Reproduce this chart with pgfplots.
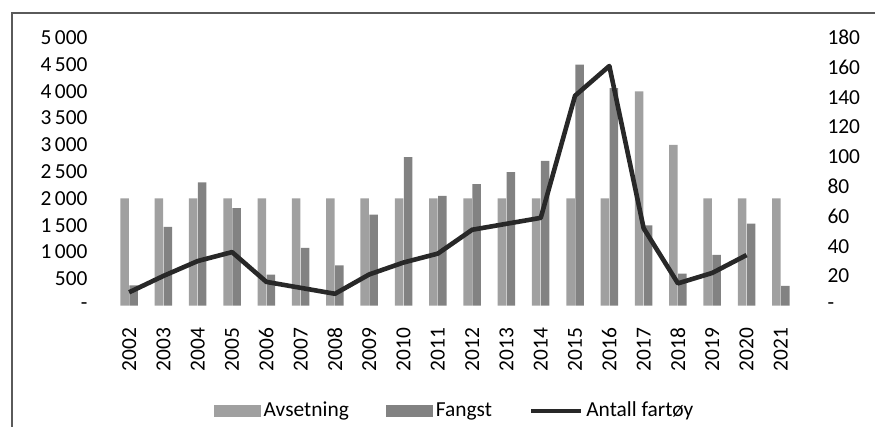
\documentclass[border=0pt]{standalone}
\usepackage{pgfplots}
\pgfplotsset{compat=1.18}
\usepackage{fontspec}
\setmainfont{Carlito}
\definecolor{avs}{RGB}{160,160,160}
\definecolor{fan}{RGB}{130,130,130}
\definecolor{lin}{RGB}{40,40,40}
\definecolor{frm}{RGB}{90,90,90}
\begin{document}
\fontsize{10.7}{12.8}\selectfont
\begin{tikzpicture}
\useasboundingbox (-56pt,-60.65pt) rectangle (381.5pt,152.85pt);
\draw[frm, line width=1pt] (-49.75pt,-62pt) -- (-49.75pt,146.35pt) -- (382pt,146.35pt);
\begin{axis}[
  at={(0pt,0pt)}, anchor=south west,
  scale only axis, width=343pt, height=134pt,
  xmin=-0.5, xmax=19.5, ymin=0, ymax=5000,
  axis line style={draw=none}, tick style={draw=none},
  xtick={0,...,19},
  xticklabels={2002,2003,2004,2005,2006,2007,2008,2009,2010,2011,2012,2013,2014,2015,2016,2017,2018,2019,2020,2021},
  xticklabel style={rotate=90, anchor=east, xshift=-3pt},
  ytick={0,500,1000,1500,2000,2500,3000,3500,4000,4500,5000},
  yticklabels={-\hspace{6pt},500,1\,000,1\,500,2\,000,2\,500,3\,000,3\,500,4\,000,4\,500,5\,000},
  yticklabel style={xshift=-8.5pt},
  /pgf/number format/assume math mode=true,
  ybar=0.25pt, bar width=4.25pt,
  legend style={at={(0.5,-0.392)}, anchor=center, draw=none, fill=none,
    legend columns=-1, /tikz/every even column/.append style={column sep=17pt},
    inner sep=0pt, nodes={inner sep=1.5pt}},
]
\addplot[fill=avs, draw=none,
  legend image code/.code={\fill[avs] (0pt,-3pt) rectangle (23.5pt,3pt);}]
  coordinates {(0,2000) (1,2000) (2,2000) (3,2000) (4,2000) (5,2000) (6,2000) (7,2000) (8,2000) (9,2000)
  (10,2000) (11,2000) (12,2000) (13,2000) (14,2000) (15,4000) (16,3000) (17,2000) (18,2000) (19,2000)};
\addlegendentry{Avsetning}
\addplot[fill=fan, draw=none,
  legend image code/.code={\fill[fan] (0pt,-3pt) rectangle (23.5pt,3pt);}]
  coordinates {(0,380) (1,1470) (2,2300) (3,1820) (4,580) (5,1080) (6,750) (7,1700) (8,2770) (9,2050)
  (10,2270) (11,2490) (12,2700) (13,4500) (14,4060) (15,1500) (16,600) (17,950) (18,1530) (19,370)};
\addlegendentry{Fangst}
\addlegendimage{legend image code/.code={\draw[lin, line width=2.2pt] (0pt,0pt) -- (25pt,0pt);}}
\addlegendentry{Antall fartøy}
\end{axis}
\begin{axis}[
  at={(0pt,0pt)}, anchor=south west,
  scale only axis, width=343pt, height=134pt,
  xmin=-0.5, xmax=19.5, ymin=0, ymax=180,
  axis line style={draw=none}, tick style={draw=none},
  xtick=\empty,
  axis y line*=right,
  ytick={0,20,40,60,80,100,120,140,160,180},
  yticklabels={-,20,40,60,80,100,120,140,160,180},
  yticklabel style={anchor=west, xshift=11pt},
  /pgf/number format/assume math mode=true,
]
\addplot[lin, line width=2.3pt, line join=round, mark=none]
  coordinates {(0,9) (1,20) (2,30) (3,36) (4,16) (5,12) (6,8) (7,21) (8,29) (9,35)
  (10,51) (11,55) (12,59) (13,141) (14,161) (15,52) (16,15) (17,22) (18,34)};
\end{axis}
\end{tikzpicture}
\end{document}
